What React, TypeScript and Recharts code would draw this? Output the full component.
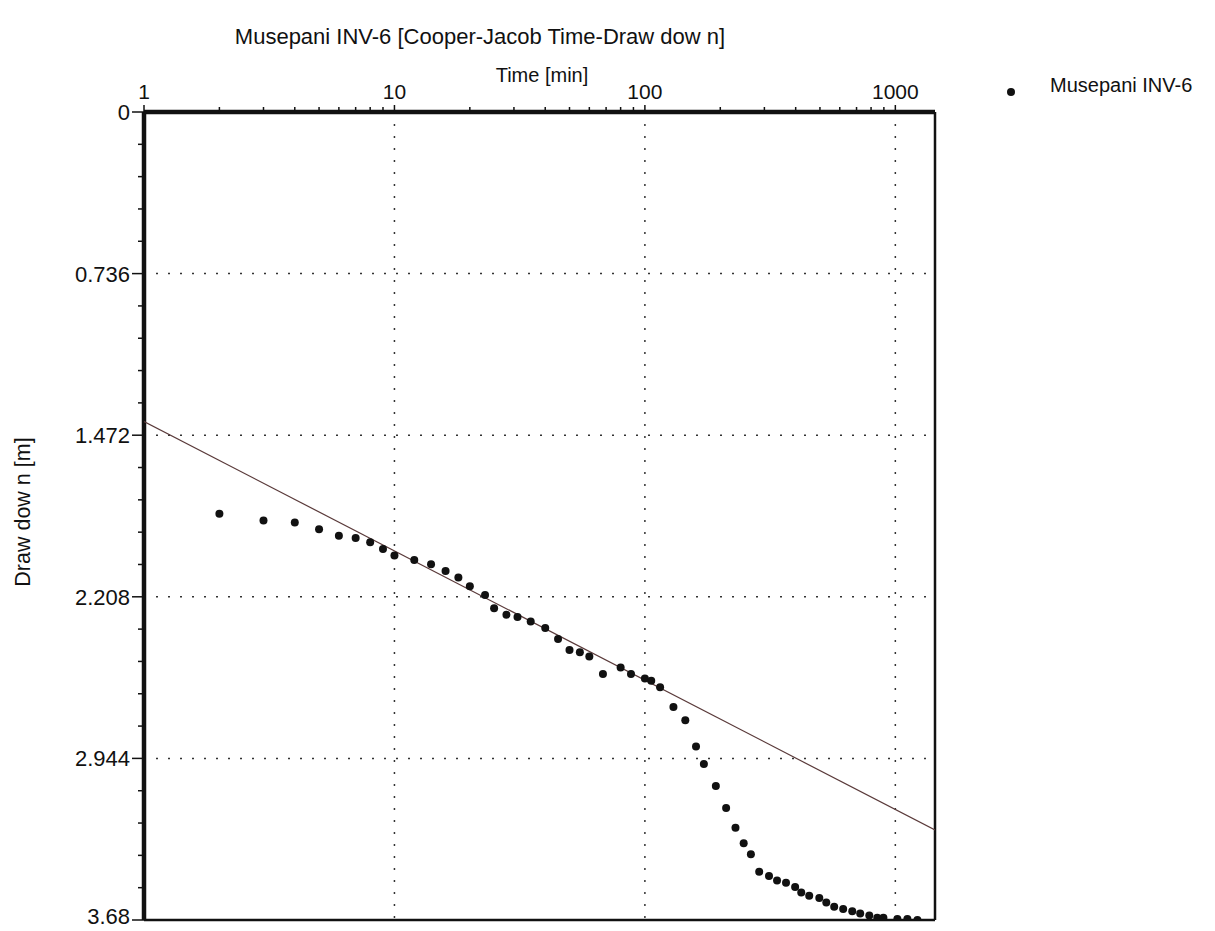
import React from "react";
import { ScatterChart, Scatter, XAxis, YAxis, ReferenceLine } from "recharts";

// pumping test record: elapsed time [min] vs drawdown [m]
const times = [
  2, 3, 4, 5, 6, 7, 8, 9, 10, 12, 14, 16, 18, 20, 23, 25, 28, 31, 35, 40,
  45, 50, 55, 60, 68, 80, 88, 100, 106, 115, 130, 145, 160, 172, 192, 211,
  230, 248, 265, 286, 313, 337, 366, 398, 421, 453, 497, 530, 570, 619, 673,
  724, 787, 847, 896, 1019, 1117, 1225,
];
const drawdowns = [
  1.83, 1.86, 1.87, 1.9, 1.93, 1.94, 1.96, 1.99, 2.02, 2.04, 2.06, 2.09,
  2.12, 2.16, 2.2, 2.26, 2.29, 2.3, 2.32, 2.35, 2.4, 2.45, 2.46, 2.48, 2.56,
  2.53, 2.56, 2.58, 2.59, 2.62, 2.71, 2.77, 2.89, 2.97, 3.07, 3.17, 3.26,
  3.33, 3.38, 3.46, 3.48, 3.5, 3.51, 3.53, 3.555, 3.57, 3.58, 3.6, 3.62,
  3.63, 3.64, 3.65, 3.66, 3.67, 3.67, 3.675, 3.675, 3.68,
];

// Cooper-Jacob straight line fit, ends of the time range
const fitTimes = [1, 1440];
const fitDrawdowns = [1.41, 3.27];

const xMajorTicks = [1, 10, 100, 1000];
const xMinorTicks = [
  2, 3, 4, 5, 6, 7, 8, 9, 20, 30, 40, 50, 60, 70, 80, 90, 200, 300, 400, 500,
  600, 700, 800, 900,
];
const yMajorTicks = [0, 0.736, 1.472, 2.208, 2.944, 3.68];
const yTickLabels = ["0", "0.736", "1.472", "2.208", "2.944", "3.68"];
const gridTimes = [10, 100, 1000];
const gridDrawdowns = [0.736, 1.472, 2.208, 2.944];

const points = times.map((t, i) => ({ t, d: drawdowns[i] }));
const fit = fitTimes.map((t, i) => ({ t, d: fitDrawdowns[i] }));
const xTicks = [...xMajorTicks, ...xMinorTicks].sort((a, b) => a - b);
// four unlabelled steps between each labelled drawdown tick
const yTicks = yMajorTicks
  .slice(0, -1)
  .flatMap((v, i) => {
    const step = (yMajorTicks[i + 1] - v) / 5;
    return [0, 1, 2, 3, 4].map((k) => +(v + k * step).toFixed(4));
  })
  .concat(yMajorTicks[yMajorTicks.length - 1]);

const FONT = "'Liberation Sans', Arial, sans-serif";
const INK = "#111";

const TimeTick = ({ x, y, payload }: any) => {
  const major = xMajorTicks.includes(payload.value);
  return (
    <g>
      <line x1={x} x2={x} y1={y} y2={y - (major ? 7 : 5)} stroke={INK} strokeWidth={1.5} />
      {major && (
        <text x={x} y={y - 13} textAnchor="middle" fontSize={21} fontFamily={FONT} fill={INK}>
          {payload.value}
        </text>
      )}
    </g>
  );
};

const DrawdownTick = ({ x, y, payload }: any) => {
  const idx = yMajorTicks.findIndex((v) => Math.abs(v - payload.value) < 1e-6);
  const major = idx >= 0;
  // the bottom label sits a little higher so it stays inside the page
  const last = idx === yMajorTicks.length - 1;
  return (
    <g>
      <line x1={x} x2={x - (major ? 12 : 6)} y1={y} y2={y} stroke={INK} strokeWidth={1.5} />
      {major && (
        <text
          x={x - 14}
          y={last ? y - 4 : y}
          dy="0.36em"
          textAnchor="end"
          fontSize={22}
          fontFamily={FONT}
          fill={INK}
        >
          {yTickLabels[idx]}
        </text>
      )}
    </g>
  );
};

const Dot = (props: any) => <circle cx={props.cx} cy={props.cy} r={4} fill={INK} />;

export default function App() {
  return (
    <div style={{ position: "relative", width: 1200, height: 923, fontFamily: FONT, color: INK }}>
      <div
        style={{
          position: "absolute", left: 0, top: 17, width: 944, textAlign: "center",
          fontSize: 22, lineHeight: "24px", whiteSpace: "nowrap",
        }}
      >
        Musepani INV-6 [Cooper-Jacob Time-Draw dow n]
      </div>
      <div
        style={{
          position: "absolute", left: 0, top: 55, width: 1068, textAlign: "center",
          fontSize: 20, lineHeight: "24px",
        }}
      >
        Time [min]
      </div>
      <div
        style={{
          position: "absolute", left: -85, top: 492, width: 200, height: 24, textAlign: "center",
          fontSize: 21.5, lineHeight: "24px", transform: "rotate(-90deg)", whiteSpace: "nowrap",
        }}
      >
        Draw dow n [m]
      </div>
      <div style={{ position: "absolute", left: 999, top: 65, display: "flex", alignItems: "center" }}>
        <svg width={10} height={10} style={{ marginTop: 14 }}>
          <circle cx={4} cy={5} r={4} fill={INK} />
        </svg>
        <span style={{ marginLeft: 33, fontSize: 20, lineHeight: "24px" }}>Musepani INV-6</span>
      </div>
      <ScatterChart width={1200} height={923} margin={{ top: 64, right: 273, bottom: 11, left: 56 }}>
        <XAxis
          dataKey="t"
          type="number"
          scale="log"
          orientation="top"
          domain={[1, 1440]}
          allowDataOverflow
          ticks={xTicks}
          interval={0}
          height={40}
          tickSize={0}
          tickMargin={0}
          tickLine={false}
          axisLine={{ stroke: INK, strokeWidth: 4.5 }}
          tick={<TimeTick />}
        />
        <YAxis
          dataKey="d"
          type="number"
          reversed
          domain={[0, 3.68]}
          allowDataOverflow
          ticks={yTicks}
          interval={0}
          width={80}
          tickSize={0}
          tickMargin={0}
          tickLine={false}
          axisLine={{ stroke: INK, strokeWidth: 4.5 }}
          tick={<DrawdownTick />}
        />
        {gridTimes.map((t) => (
          <ReferenceLine key={`gx-${t}`} x={t} stroke="#333" strokeWidth={1.5} strokeDasharray="2 10" />
        ))}
        {gridDrawdowns.map((d) => (
          <ReferenceLine key={`gy-${d}`} y={d} stroke="#333" strokeWidth={1.5} strokeDasharray="2 10" />
        ))}
        <ReferenceLine x={1440} stroke={INK} strokeWidth={2.5} />
        <ReferenceLine y={3.68} stroke={INK} strokeWidth={2.5} />
        <Scatter
          data={fit}
          line={{ stroke: "#5a3a3a", strokeWidth: 1.2 }}
          shape={() => <g />}
          isAnimationActive={false}
        />
        <Scatter data={points} fill={INK} shape={<Dot />} isAnimationActive={false} />
      </ScatterChart>
    </div>
  );
}
